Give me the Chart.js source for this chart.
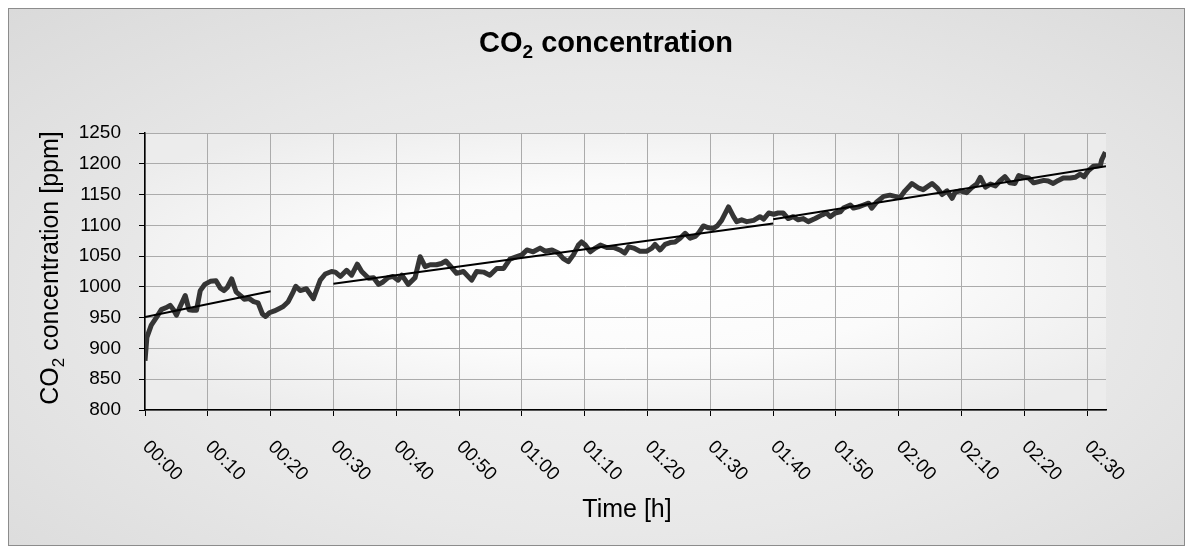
<!DOCTYPE html>
<html>
<head>
<meta charset="utf-8">
<script src="https://cdn.jsdelivr.net/npm/chart.js@4.4.1/dist/chart.umd.min.js"></script>
<style>
    html, body { margin: 0; padding: 0; background: #fff; }
    #frame {
        position: absolute; left: 8px; top: 8px; width: 1177px; height: 538px;
        box-sizing: border-box; border: 1px solid #8c8c8c;
        background: radial-gradient(ellipse at 52% 55%, #f3f3f3 0%, #e8e8e8 55%, #dadada 100%);
    }
    #wrap { position: absolute; left: 0; top: 0; width: 1193px; height: 549px; }
</style>
</head>
<body>
<div id="frame"></div>
<div id="wrap"><canvas id="chart" width="1193" height="549"></canvas></div>
<script>
// measured CO2 (minutes since start -> ppm)
const timeMin = [
    0, 0.3, 1.0, 1.8, 2.6, 3.3, 4.0, 4.6, 5.0, 5.6, 6.4, 7.0, 7.6, 8.2, 8.8, 9.5,
    10.4, 11.3, 12.0, 12.6, 13.1, 13.8, 14.5, 15.3, 15.8, 16.6, 17.3, 18.0, 18.7, 19.2, 19.8,
    20.6, 21.4, 22.0, 22.8, 23.6, 24.0, 24.7, 25.7, 26.8, 27.9, 28.7, 29.7,
    30.3, 31.1, 32.1, 32.9, 33.8, 34.5, 35.6, 36.4, 37.2, 37.9, 38.7, 39.5,
    40.3, 40.9, 41.9, 43.0, 43.8, 44.6, 45.4, 46.4, 47.2, 47.9, 48.6, 49.6,
    50.7, 52.0, 52.8, 53.9, 54.9, 56.0, 57.1, 58.1, 59.2,
    60.0, 60.8, 61.8, 62.9, 63.7, 64.8, 65.8, 66.6, 67.4, 68.2, 69.0, 69.5,
    70.1, 70.9, 71.7, 72.5, 73.5, 74.6, 75.6, 76.4, 77.0, 77.8, 78.8, 79.9,
    80.7, 81.2, 82.0, 82.8, 83.6, 84.4, 85.2, 86.0, 86.8, 87.6, 88.1, 88.9, 89.7,
    90.5, 91.1, 91.8, 92.9, 93.7, 94.2, 95.0, 95.8, 96.9, 97.9, 98.5, 99.3,
    100.1, 100.8, 101.6, 102.4, 103.2, 104.0, 104.8, 105.6, 106.7, 107.8, 108.5, 109.1, 109.9,
    110.7, 111.2, 112.3, 112.8, 113.6, 114.4, 115.2, 115.7, 116.5, 117.6, 118.6, 119.4,
    120.2, 121.0, 122.1, 123.1, 123.9, 125.3, 126.1, 126.9, 127.7, 128.5, 129.0, 129.8,
    130.8, 131.6, 132.4, 133.0, 133.8, 134.6, 135.4, 136.1, 136.9, 137.7, 138.5, 139.1, 139.9,
    140.7, 141.5, 142.3, 143.1, 143.8, 144.6, 145.4, 146.2, 147.3, 148.1, 148.9, 149.5,
    150.2, 151.0, 152.1, 152.3, 152.9
];
const co2Ppm = [
    880, 918, 938, 950, 963, 966, 970, 962, 954, 968, 986, 963, 962, 962, 994, 1004,
    1009, 1010, 998, 994, 999, 1013, 992, 985, 980, 981, 976, 974, 956, 952, 958,
    961, 965, 968, 976, 992, 1001, 994, 997, 981, 1011, 1021, 1025,
    1024, 1017, 1027, 1019, 1037, 1025, 1014, 1015, 1004, 1008, 1015, 1017,
    1011, 1019, 1004, 1015, 1049, 1033, 1036, 1036, 1038, 1042, 1034, 1022,
    1025, 1011, 1025, 1024, 1019, 1030, 1030, 1045, 1049,
    1052, 1060, 1057, 1063, 1058, 1060, 1055, 1046, 1041, 1052, 1068, 1073,
    1068, 1057, 1063, 1068, 1064, 1064, 1060, 1055, 1065, 1063, 1058, 1058,
    1063, 1069, 1060, 1069, 1072, 1073, 1079, 1087, 1079, 1082, 1087, 1099, 1096,
    1095, 1099, 1108, 1130, 1114, 1106, 1109, 1106, 1108, 1114, 1110, 1120,
    1118, 1120, 1120, 1111, 1114, 1109, 1111, 1106, 1111, 1117, 1120, 1114, 1120,
    1122, 1128, 1133, 1128, 1130, 1133, 1136, 1128, 1138, 1147, 1149, 1147,
    1145, 1156, 1168, 1161, 1158, 1168, 1161, 1150, 1156, 1144, 1154, 1156,
    1153, 1161, 1167, 1178, 1162, 1167, 1164, 1172, 1179, 1169, 1168, 1181, 1178,
    1177, 1169, 1171, 1173, 1172, 1168, 1173, 1177, 1177, 1178, 1183, 1179,
    1189, 1196, 1197, 1206, 1219
];

// linear trend segments
const trendFrom = [0, 30, 100];
const trendTo = [20, 100, 153];
const trendFromPpm = [951, 1005, 1110];
const trendToPpm = [993, 1103, 1196];

const yTicks = { min: 800, max: 1250, step: 50 };
const xTicks = { min: 0, max: 153, step: 10 };

const FONT = "'Liberation Sans', Arial, sans-serif";

function hhmm(min) {
    const h = Math.floor(min / 60);
    const m = Math.round(min % 60);
    return String(h).padStart(2, '0') + ':' + String(m).padStart(2, '0');
}

// text with a subscript part, e.g. CO2
function drawRich(ctx, parts, x, y, size, weight) {
    const subSize = Math.round(size * 0.66);
    let total = 0;
    parts.forEach(function (p) {
        ctx.font = weight + ' ' + (p.sub ? subSize : size) + 'px ' + FONT;
        p.w = ctx.measureText(p.t).width;
        total += p.w;
    });
    let cx = x - total / 2;
    parts.forEach(function (p) {
        ctx.font = weight + ' ' + (p.sub ? subSize : size) + 'px ' + FONT;
        ctx.fillText(p.t, cx, p.sub ? y + size * 0.22 : y);
        cx += p.w;
    });
}

const plotBackground = {
    id: 'plotBackground',
    beforeDraw(chart) {
        const { ctx, chartArea: a } = chart;
        const w = a.right - a.left;
        const h = a.bottom - a.top;
        ctx.save();
        ctx.beginPath();
        ctx.rect(a.left, a.top, w, h);
        ctx.clip();
        ctx.translate((a.left + a.right) / 2, (a.top + a.bottom) / 2);
        ctx.scale(1, h / w);
        const g = ctx.createRadialGradient(0, 0, 0, 0, 0, w * 0.62);
        g.addColorStop(0, '#ffffff');
        g.addColorStop(0.5, '#fbfbfb');
        g.addColorStop(1, '#ececec');
        ctx.fillStyle = g;
        ctx.fillRect(-w, -w, 2 * w, 2 * w);
        ctx.restore();
    }
};

const texts = {
    id: 'texts',
    afterDraw(chart) {
        const ctx = chart.ctx;
        const xs = chart.scales.x;
        ctx.save();
        ctx.fillStyle = '#000';
        ctx.textAlign = 'left';
        ctx.textBaseline = 'alphabetic';

        // title
        drawRich(ctx, [{ t: 'CO' }, { t: '2', sub: true }, { t: ' concentration' }], 606, 52, 29, 'bold');

        // x axis title
        drawRich(ctx, [{ t: 'Time [h]' }], 627, 517, 25, 'normal');

        // y axis title
        ctx.save();
        ctx.translate(58, 268);
        ctx.rotate(-Math.PI / 2);
        drawRich(ctx, [{ t: 'CO' }, { t: '2', sub: true }, { t: ' concentration [ppm]' }], 0, 0, 25, 'normal');
        ctx.restore();

        // rotated time labels
        ctx.font = '19px ' + FONT;
        xs.ticks.forEach(function (tk) {
            const px = xs.getPixelForValue(tk.value);
            ctx.save();
            ctx.translate(px + 1.5, 443);
            ctx.rotate(Math.PI / 4);
            ctx.fillText(hhmm(tk.value), 0, 6.8);
            ctx.restore();
        });
        ctx.restore();
    }
};

const datasets = [{
    label: 'CO2',
    data: timeMin.map(function (t, i) { return { x: t, y: co2Ppm[i] }; }),
    borderColor: '#353535',
    borderWidth: 5,
    borderJoinStyle: 'round',
    pointRadius: 0,
    tension: 0,
    order: 2
}];
trendFrom.forEach(function (t0, i) {
    datasets.push({
        label: 'trend ' + (i + 1),
        data: [{ x: t0, y: trendFromPpm[i] }, { x: trendTo[i], y: trendToPpm[i] }],
        borderColor: '#000',
        borderWidth: 2,
        pointRadius: 0,
        order: 1
    });
});

new Chart(document.getElementById('chart'), {
    type: 'line',
    data: { datasets: datasets },
    plugins: [plotBackground, texts],
    options: {
        responsive: false,
        animation: false,
        layout: { padding: { top: 133, right: 87, bottom: 0, left: 0 } },
        plugins: {
            legend: { display: false },
            title: { display: false },
            tooltip: { enabled: false }
        },
        scales: {
            x: {
                type: 'linear',
                min: xTicks.min,
                max: xTicks.max,
                ticks: { stepSize: xTicks.step, includeBounds: false, display: false },
                grid: { color: '#ababab', lineWidth: 1, tickColor: '#000', tickLength: 6 },
                border: { color: '#000', width: 1.5 },
                afterFit(scale) { scale.height = 139; }
            },
            y: {
                min: yTicks.min,
                max: yTicks.max,
                ticks: {
                    stepSize: yTicks.step,
                    color: '#000',
                    padding: 18,
                    font: { family: FONT, size: 19 },
                    callback: function (v) { return String(v); }
                },
                grid: { color: '#ababab', lineWidth: 1, tickColor: '#000', tickLength: 6 },
                border: { color: '#000', width: 1.5 },
                afterFit(scale) { scale.width = 145; }
            }
        }
    }
});
</script>
</body>
</html>
